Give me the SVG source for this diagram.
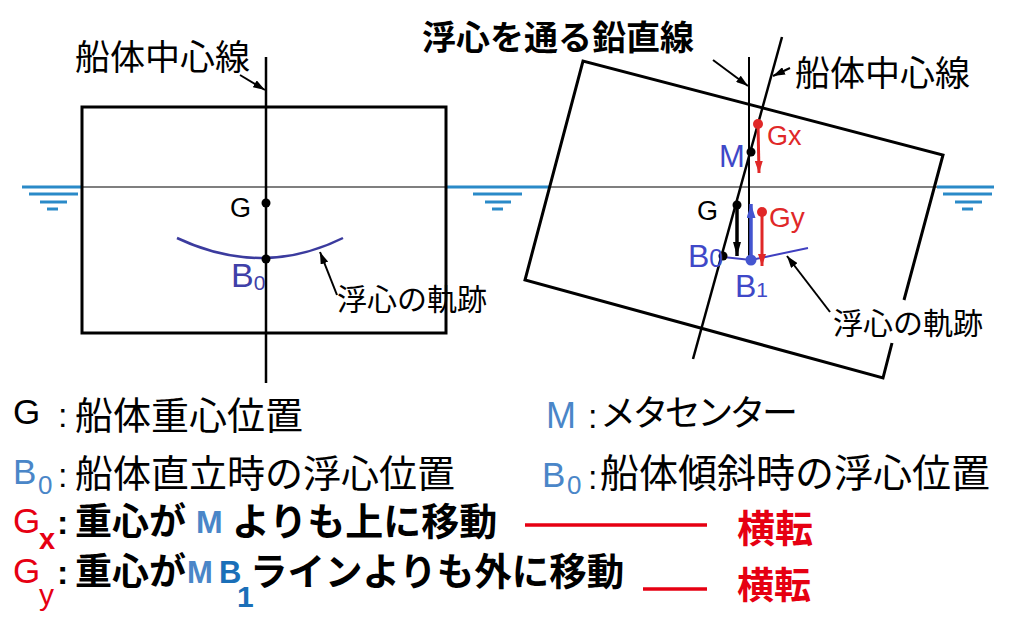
<svg xmlns="http://www.w3.org/2000/svg" width="1015" height="623" viewBox="0 0 1015 623">
<style>
text{font-family:"Liberation Sans","Noto Sans CJK JP",sans-serif;fill:#000}
.jp{font-family:"Noto Sans CJK JP","Liberation Sans",sans-serif}
.b{font-weight:bold}
.hull{fill:none;stroke:#000;stroke-width:3}
.cl{stroke:#000;stroke-width:2.5;fill:none}
.wl{stroke:#555;stroke-width:1.5}
.water{stroke:#2a8ac8;stroke-width:3}
.ptr{stroke:#000;stroke-width:2;fill:none;marker-end:url(#ah)}
.lb{fill:#4a86c8}
.rd{fill:#e60012}
.db{fill:#1a6fb8}
.ib{fill:#3f48c8}
.ir{fill:#e02828}
</style>
<defs>
<marker id="ah" markerUnits="userSpaceOnUse" viewBox="0 0 12 8" refX="12" refY="4" markerWidth="12" markerHeight="8" orient="auto"><path d="M0,0 L12,4 L0,8 Z" fill="#000"/></marker>
<marker id="ahK" markerUnits="userSpaceOnUse" viewBox="0 0 14 8" refX="14" refY="4" markerWidth="14" markerHeight="8" orient="auto"><path d="M0,0 L14,4 L0,8 Z" fill="#000"/></marker>
<marker id="ahB" markerUnits="userSpaceOnUse" viewBox="0 0 14 9" refX="14" refY="4.5" markerWidth="14" markerHeight="9" orient="auto"><path d="M0,0 L14,4.5 L0,9 Z" fill="#4455d0"/></marker>
<marker id="ahR" markerUnits="userSpaceOnUse" viewBox="0 0 12 8" refX="12" refY="4" markerWidth="12" markerHeight="8" orient="auto"><path d="M0,0 L12,4 L0,8 Z" fill="#e02828"/></marker>
</defs>

<g id="water">
<line class="wl" x1="82" y1="187" x2="446" y2="187"/>
<line class="wl" x1="549" y1="187" x2="937" y2="187"/>
<line class="water" x1="22" y1="187" x2="82" y2="187"/>
<line class="water" x1="29" y1="194" x2="78" y2="194"/>
<line class="water" x1="40" y1="202" x2="67" y2="202"/>
<line class="water" x1="47" y1="209" x2="58" y2="209"/>
<line class="water" x1="447" y1="187" x2="549" y2="187"/>
<line class="water" x1="473" y1="194" x2="522" y2="194"/>
<line class="water" x1="485" y1="202" x2="511" y2="202"/>
<line class="water" x1="492" y1="209" x2="503" y2="209"/>
<line class="water" x1="937" y1="187" x2="994" y2="187"/>
<line class="water" x1="943" y1="194" x2="992" y2="194"/>
<line class="water" x1="955" y1="202" x2="982" y2="202"/>
<line class="water" x1="962" y1="209" x2="973" y2="209"/>
</g>

<g id="hull-upright">
<rect class="hull" x="82" y="107" width="364" height="226"/>
</g>
<g id="hull-heeled">
<path class="hull" d="M904,300 L943,155 L583,61 L525,280 L883,378 L892,343"/>
</g>

<g id="connectors">
<line class="cl" x1="266" y1="57" x2="266" y2="383"/>
<path d="M177,238 Q262,278 343,238" fill="none" stroke="#3b3b9e" stroke-width="2.5"/>
<line class="ptr" x1="240" y1="75" x2="265" y2="90"/>
<line class="ptr" x1="337" y1="295" x2="320" y2="252"/>
<line stroke="#000" stroke-width="2" x1="749" y1="57" x2="749" y2="261"/>
<line class="cl" x1="782" y1="37" x2="693" y2="359"/>
<line class="ptr" x1="713" y1="60" x2="748" y2="86"/>
<line class="ptr" x1="790" y1="68" x2="773" y2="76"/>
<line class="ptr" x1="830" y1="312" x2="787" y2="256"/>
<polyline points="723,257 751,260 808,248" fill="none" stroke="#4040c0" stroke-width="2"/>
<line stroke="#000" stroke-width="3.5" x1="737" y1="205" x2="737" y2="256" marker-end="url(#ahK)"/>
<line stroke="#4455d0" stroke-width="3.5" x1="751" y1="260" x2="751" y2="204" marker-end="url(#ahB)"/>
<line stroke="#e02828" stroke-width="3" x1="758" y1="124" x2="759" y2="173" marker-end="url(#ahR)"/>
<line stroke="#e02828" stroke-width="3" x1="762" y1="212" x2="762" y2="266" marker-end="url(#ahR)"/>
</g>

<g id="points">
<circle cx="266" cy="203" r="4.5" fill="#000"/>
<circle cx="266" cy="259" r="4.5" fill="#000"/>
<circle cx="751" cy="152" r="4.5" fill="#000"/>
<circle cx="758" cy="124" r="5" fill="#e02828"/>
<circle cx="737" cy="205" r="4.5" fill="#000"/>
<circle cx="751" cy="260" r="5.5" fill="#4455d0"/>
<circle cx="762" cy="212" r="5" fill="#e02828"/>
<circle cx="723" cy="256" r="4.5" fill="#000"/>
</g>

<g id="labels-upright">
<text class="jp" x="75" y="70" font-size="35">船体中心線</text>
<text x="230" y="217" font-size="27">G</text>
<text x="231" y="287" style="fill:#4040a8"><tspan font-size="34">B</tspan><tspan font-size="21" dy="3">0</tspan></text>
<text class="jp" x="337" y="310" font-size="30">浮心の軌跡</text>
</g>

<g id="labels-heeled">
<text class="jp b" x="422" y="50" font-size="34">浮心を通る鉛直線</text>
<text class="jp" x="795" y="86" font-size="35">船体中心線</text>
<text class="ir" x="767" y="145" font-size="27">Gx</text>
<text class="ib" x="719" y="167" font-size="31">M</text>
<text x="697" y="220" font-size="27">G</text>
<text class="ir" x="769" y="227" font-size="28">Gy</text>
<text class="ib" x="688" y="267"><tspan font-size="32">B</tspan><tspan font-size="25">0</tspan></text>
<text class="ib" x="735" y="297"><tspan font-size="32">B</tspan><tspan font-size="21">1</tspan></text>
<text class="jp" x="833" y="334" font-size="30">浮心の軌跡</text>
</g>

<g id="legend">
<text font-size="36"><tspan x="13" y="424" font-size="35">G</tspan><tspan x="58" y="427" font-size="34">:</tspan><tspan class="jp" x="75" y="429" font-size="38">船体重心位置</tspan></text>

<text font-size="36"><tspan class="lb" x="13" y="484" font-size="35">B</tspan><tspan class="lb" x="38" y="494" font-size="26">0</tspan><tspan x="58" y="487" font-size="34">:</tspan><tspan class="jp" x="75" y="487" font-size="38">船体直立時の浮心位置</tspan></text>

<text class="b" font-size="36"><tspan class="rd" x="13" y="533" font-size="35" font-weight="normal">G</tspan><tspan class="rd" x="39" y="549" font-size="29">x</tspan><tspan x="57" y="534" font-size="34">:</tspan><tspan class="jp" x="75" y="535" font-size="37">重心が</tspan><tspan class="lb" x="196" y="533" font-size="32">M</tspan><tspan class="jp" x="232" y="535" font-size="38">よりも上に移動</tspan></text>
<line x1="525" y1="525" x2="707" y2="525" stroke="#e60012" stroke-width="3.5"/>
<text class="jp b rd" x="737" y="542" font-size="38">横転</text>

<text class="b" font-size="36"><tspan class="rd" x="13" y="583" font-size="35" font-weight="normal">G</tspan><tspan class="rd" x="39" y="605" font-size="30" font-weight="normal">y</tspan><tspan x="57" y="584" font-size="34">:</tspan><tspan class="jp" x="75" y="585" font-size="37">重心が</tspan><tspan class="lb" x="187" y="583" font-size="31">M</tspan><tspan class="db" x="219" y="583" font-size="31">B</tspan><tspan class="db" x="237" y="607" font-size="30">1</tspan><tspan class="jp" x="250" y="585" font-size="37.5">ラインよりも外に移動</tspan></text>
<line x1="643" y1="589" x2="707" y2="589" stroke="#e60012" stroke-width="3.5"/>
<text class="jp b rd" x="737" y="599" font-size="37">横転</text>

<text font-size="36"><tspan class="lb" x="546" y="428" font-size="36">M</tspan><tspan x="588" y="428" font-size="34">:</tspan><tspan class="jp" x="600" y="426" font-size="36" textLength="198">メタセンター</tspan></text>

<text font-size="36"><tspan class="lb" x="542" y="487" font-size="35">B</tspan><tspan class="lb" x="567" y="494" font-size="26">0</tspan><tspan x="588" y="489" font-size="34">:</tspan><tspan class="jp" x="600" y="487" font-size="39">船体傾斜時の浮心位置</tspan></text>
</g>
</svg>
